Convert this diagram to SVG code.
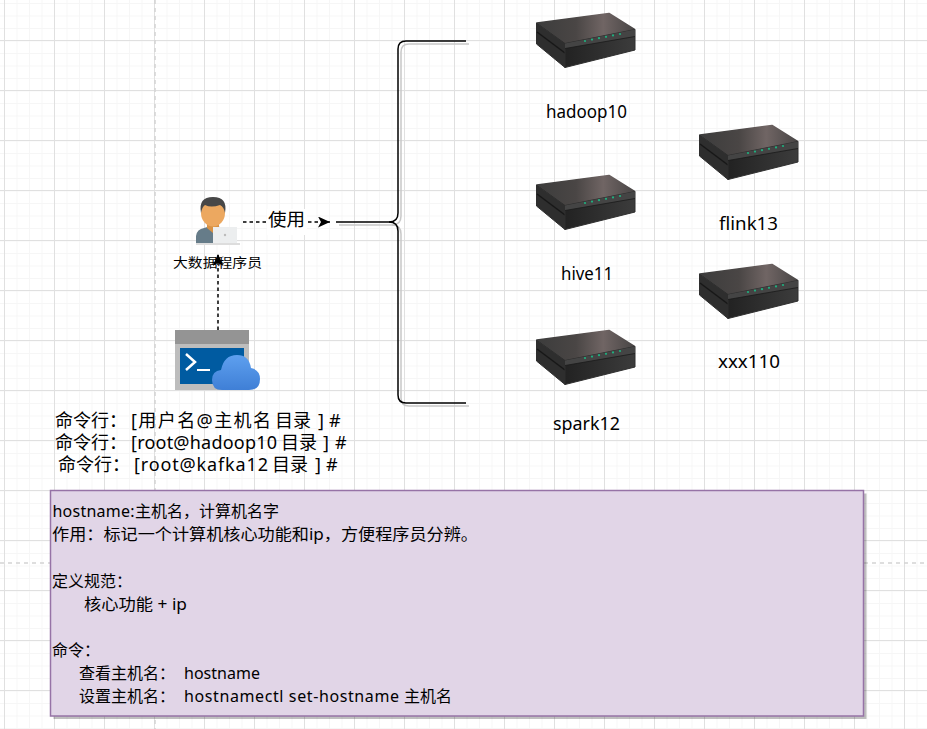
<svg xmlns="http://www.w3.org/2000/svg" xmlns:xlink="http://www.w3.org/1999/xlink" width="927" height="729" viewBox="0 0 927 729">
<style>
text{font-family:"Noto Sans","Noto Sans CJK SC",sans-serif;fill:#000}
.l{font-size:18px}
.b{font-size:16px}
.s{font-size:13px}
.dash{fill:none;stroke:#000;stroke-width:1.5;stroke-dasharray:3.5 3}
.br{fill:none;stroke:#000;stroke-width:1.5}
.brs{fill:none;stroke:#c8c8c8;stroke-width:1.5}
.g{fill:none;stroke:#d4d4d4;stroke-width:1.5;stroke-dasharray:4 4}
</style>
<defs>
<pattern id="minor" width="12.5" height="12.5" patternUnits="userSpaceOnUse" x="4" y="3">
<path d="M.5 0V12.5M0 .5H12.5" stroke="#f6f6f6" stroke-width="1" fill="none"/>
</pattern>
<pattern id="major" width="50" height="50" patternUnits="userSpaceOnUse" x="4" y="40">
<path d="M.5 0V50M0 .5H50" stroke="#e0e0e0" stroke-width="1" fill="none"/>
</pattern>
<marker id="arr" markerWidth="13" markerHeight="12" refX="12" refY="5.500" orient="auto" markerUnits="userSpaceOnUse">
<path d="M0 0L12 5.500L0 11L3 5.500Z" fill="#000"/>
</marker>
<linearGradient id="top" x1="0" y1="0" x2="1" y2="0">
<stop offset="0" stop-color="#3c3c3c"/><stop offset=".4" stop-color="#4a4645"/><stop offset=".68" stop-color="#706564"/><stop offset="1" stop-color="#484545"/>
</linearGradient>
<linearGradient id="front" x1="0" y1="0" x2="1" y2="0">
<stop offset="0" stop-color="#222"/><stop offset="1" stop-color="#3c3c3c"/>
</linearGradient>
<linearGradient id="cloud" x1="0" y1="0" x2="0" y2="1">
<stop offset="0" stop-color="#5ea0ef"/><stop offset="1" stop-color="#3f7fd6"/>
</linearGradient>
<g id="srv">
<path d="M1 11L73 1.500L98.500 17.500L29 31.500Z" fill="url(#top)" stroke="url(#top)" stroke-width="1.500" stroke-linejoin="round"/>
<path d="M0.500 11L29 31.500V55.500L0.500 32Z" fill="#2e2e2e" stroke="#2e2e2e" stroke-width="1" stroke-linejoin="round"/>
<path d="M1 20L29 41" stroke="#181818" stroke-width="1.500" fill="none"/>
<path d="M29 31.500L99 17.500V38L29 55.500Z" fill="url(#front)" stroke="#2e2e2e" stroke-width="1" stroke-linejoin="round"/>
<path d="M29 31.500L99 17.500V24.500L29 36.500Z" fill="#444"/>
<path d="M29 36.500L99 24.500" stroke="#1a1a1a" stroke-width=".8" fill="none"/>
<g fill="#1fb07f"><circle cx="49" cy="29" r="1.100"/><circle cx="56" cy="27.600" r="1.100"/><circle cx="63" cy="26.200" r="1.100"/><circle cx="70" cy="24.800" r="1.100"/><circle cx="77" cy="23.400" r="1.100"/><circle cx="84" cy="22" r="1.100"/></g>
</g>
</defs>
<rect width="927" height="729" fill="#fff"/>
<rect width="927" height="729" fill="url(#minor)"/>
<rect width="927" height="729" fill="url(#major)"/>
<path class="g" d="M155 0V729M0 563H927"/>

<g id="connectors">
<path class="brs" d="M339 225H392Q401 225 401 216V52Q401 44 409 44H469"/>
<path class="brs" d="M392 225Q401 225 401 234V398Q401 406 409 406H469"/>
<path class="br" d="M336 222H389Q398 222 398 213V49Q398 41 406 41H466"/>
<path class="br" d="M389 222Q398 222 398 231V395Q398 403 406 403H466"/>
<path class="dash" d="M243 222H330" marker-end="url(#arr)"/>
<path class="dash" d="M218 330V254" marker-end="url(#arr)"/>
<rect x="267" y="209" width="40" height="26" fill="#fff"/>
<text class="l" x="268" y="226" textLength="37" lengthAdjust="spacingAndGlyphs">使用</text>
</g>

<g id="hadoop10"><use xlink:href="#srv" href="#srv" x="536" y="12"/><text class="l" x="546" y="118" textLength="81" lengthAdjust="spacingAndGlyphs">hadoop10</text></g>
<g id="hive11"><use xlink:href="#srv" href="#srv" x="536" y="174"/><text class="l" x="561" y="280" textLength="52" lengthAdjust="spacingAndGlyphs">hive11</text></g>
<g id="spark12"><use xlink:href="#srv" href="#srv" x="536" y="329"/><text class="l" x="553" y="430" textLength="67" lengthAdjust="spacingAndGlyphs">spark12</text></g>
<g id="flink13"><use xlink:href="#srv" href="#srv" x="699" y="124"/><text class="l" x="719" y="230" textLength="59" lengthAdjust="spacingAndGlyphs">flink13</text></g>
<g id="xxx110"><use xlink:href="#srv" href="#srv" x="699" y="263"/><text class="l" x="718" y="368" textLength="62" lengthAdjust="spacingAndGlyphs">xxx110</text></g>

<g id="programmer">
<path d="M196 245V236Q197 229 204 228L214 225L226 229V245Z" fill="#667c89"/>
<path d="M207 222H219V229L213 233L207 228Z" fill="#d89245"/>
<ellipse cx="213" cy="213" rx="12" ry="13.500" fill="#eca860"/>
<path d="M201 213Q198 197 213 197Q228 197 225 213Q224 207 220 205Q211 208 205 205Q202 207 201 213Z" fill="#474747"/>
<rect x="213" y="227" width="24" height="16" fill="#eceeef"/>
<rect x="196" y="243" width="44" height="2" fill="#ddd"/>
<circle cx="225" cy="235" r="1.200" fill="#bbb"/>
<text class="s" x="173" y="267" textLength="89" lengthAdjust="spacingAndGlyphs">大数据程序员</text>
</g>

<g id="terminal">
<rect x="175" y="344" width="74" height="46" fill="#bdbdbd"/>
<rect x="175" y="330" width="74" height="14" fill="#949494"/>
<rect x="180" y="348" width="64" height="36" fill="#005ba1"/>
<path d="M186 354L195 362L186 370" fill="none" stroke="#fff" stroke-width="2.500"/>
<path d="M197 370H210" stroke="#fff" stroke-width="2"/>
<path d="M222 390Q212 390 212 380Q212 371 221 370Q224 355 237 355Q249 355 251 368Q260 370 260 379Q260 390 249 390Z" fill="url(#cloud)"/>
</g>

<g id="prompts">
<text class="l" y="427"><tspan x="55">命令行：</tspan><tspan x="131" textLength="140">[用户名@主机名</tspan><tspan x="275">目录</tspan><tspan x="318">]</tspan><tspan x="329">#</tspan></text>
<text class="l" y="449"><tspan x="55">命令行：</tspan><tspan x="131" textLength="146">[root@hadoop10</tspan><tspan x="281">目录</tspan><tspan x="323">]</tspan><tspan x="335">#</tspan></text>
<text class="l" y="471"><tspan x="58">命令行：</tspan><tspan x="134" textLength="134">[root@kafka12</tspan><tspan x="272">目录</tspan><tspan x="315">]</tspan><tspan x="326">#</tspan></text>
</g>

<g id="note">
<rect x="53.500" y="493.500" width="813" height="225.500" fill="#000" opacity=".25"/>
<rect x="50.500" y="490.500" width="813" height="225.500" fill="#e1d5e7" stroke="#9673a6" stroke-width="1.500"/>
<text class="b" y="517"><tspan x="52.500" textLength="82">hostname:</tspan><tspan x="135">主机名，计算机名字</tspan></text>
<text class="b" x="52" y="540" textLength="426" lengthAdjust="spacingAndGlyphs">作用：标记一个计算机核心功能和ip，方便程序员分辨。</text>
<text class="b" x="52" y="587" textLength="80" lengthAdjust="spacingAndGlyphs">定义规范：</text>
<text class="b" x="84" y="610" textLength="103" lengthAdjust="spacingAndGlyphs">核心功能 + ip</text>
<text class="b" x="52" y="656" textLength="48" lengthAdjust="spacingAndGlyphs">命令：</text>
<text class="b" y="679"><tspan x="79">查看主机名：</tspan><tspan x="184" textLength="76">hostname</tspan></text>
<text class="b" y="702"><tspan x="79">设置主机名：</tspan><tspan x="184" textLength="215">hostnamectl set-hostname</tspan><tspan x="404">主机名</tspan></text>
</g>
</svg>
